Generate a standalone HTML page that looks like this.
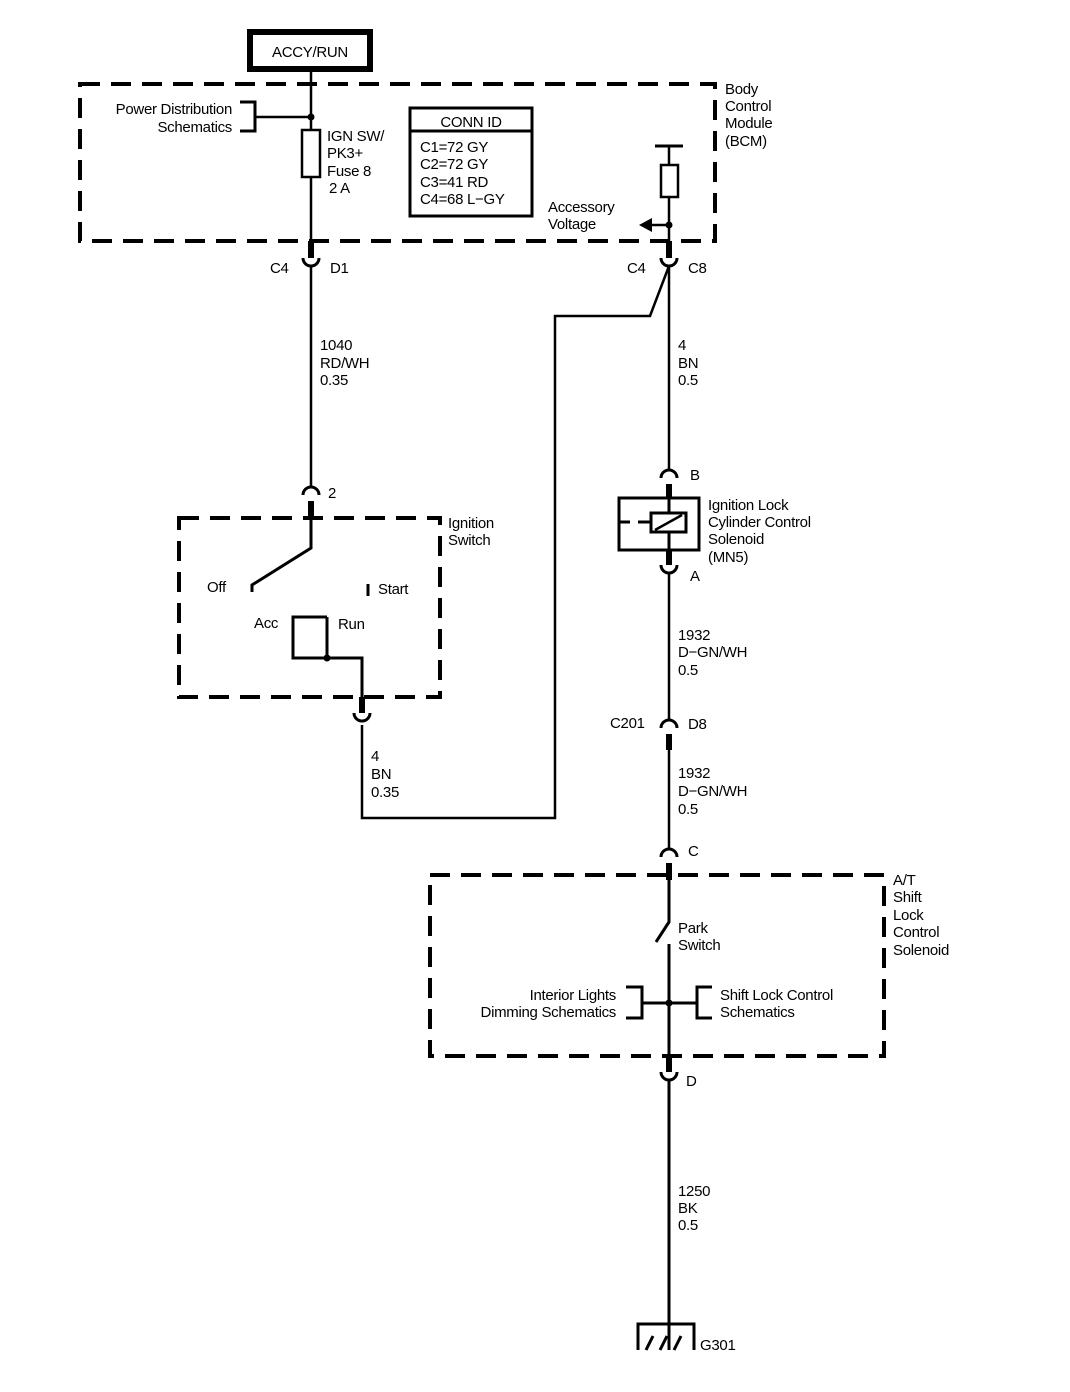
<!DOCTYPE html>
<html><head><style>
html,body{margin:0;padding:0;background:#fff}
svg{display:block}
text{font-family:"Liberation Sans",sans-serif;font-size:15px;fill:#000;letter-spacing:-0.3px}
</style></head><body>
<svg width="1070" height="1392" viewBox="0 0 1070 1392" xmlns="http://www.w3.org/2000/svg">
<g fill="none" stroke="#000">
<!-- ACCY/RUN -->
<rect x="250" y="32" width="120" height="37" stroke-width="6"/>
<!-- dashed boxes -->
<rect x="80" y="84" width="635" height="157" stroke-width="4" stroke-dasharray="20,11"/>
<rect x="179" y="518" width="261" height="179" stroke-width="4" stroke-dasharray="20,11"/>
<rect x="430" y="875" width="454" height="181" stroke-width="4" stroke-dasharray="20,11"/>
<!-- left wire -->
<line x1="311" y1="69" x2="311" y2="258" stroke-width="2.5"/>
<line x1="311" y1="241" x2="311" y2="258" stroke-width="6"/>
<path d="M303,258 A8,8 0 0 0 319,258" stroke-width="3"/>
<line x1="311" y1="266" x2="311" y2="487" stroke-width="2.5"/>
<path d="M303,495 A8,8 0 0 1 319,495" stroke-width="3"/>
<line x1="311" y1="501" x2="311" y2="520" stroke-width="6"/>
<!-- power distribution bracket -->
<line x1="255" y1="117" x2="311" y2="117" stroke-width="2.5"/>
<path d="M240,102 H255 V131 H240" stroke-width="3"/>
<circle cx="311" cy="117" r="3" fill="#000"/>
<!-- fuse -->
<rect x="302" y="130" width="18" height="47" fill="#fff" stroke-width="2.5"/>
<!-- conn id -->
<rect x="410" y="108" width="122" height="108" stroke-width="3"/>
<line x1="410" y1="131" x2="532" y2="131" stroke-width="3"/>
<!-- right BCM -->
<line x1="655" y1="146" x2="683" y2="146" stroke-width="3"/>
<line x1="669" y1="146" x2="669" y2="258" stroke-width="2.5"/>
<rect x="661" y="165" width="17" height="32" fill="#fff" stroke-width="2.5"/>
<line x1="650" y1="225" x2="669" y2="225" stroke-width="2.5"/>
<polygon points="639,225 652,218 652,232" fill="#000" stroke="none"/>
<circle cx="669" cy="225" r="3" fill="#000"/>
<line x1="669" y1="241" x2="669" y2="258" stroke-width="6"/>
<path d="M661,258 A8,8 0 0 0 677,258" stroke-width="3"/>
<!-- diagonal route -->
<polyline points="669,266 650,316 555,316 555,818 362,818 362,725" stroke-width="2.5"/>
<line x1="669" y1="266" x2="669" y2="470" stroke-width="2.5"/>
<!-- ignition switch internals -->
<polyline points="311,520 311,548 252,585 252,592" stroke-width="3"/>
<line x1="368" y1="584" x2="368" y2="596" stroke-width="3"/>
<path d="M327,617 H293 V658 H362 V697" stroke-width="3"/>
<line x1="327" y1="617" x2="327" y2="658" stroke-width="3"/>
<circle cx="327" cy="658" r="3" fill="#000"/>
<line x1="362" y1="697" x2="362" y2="713" stroke-width="6"/>
<path d="M354,713 A8,8 0 0 0 370,713" stroke-width="3"/>
<!-- solenoid MN5 -->
<path d="M661,478 A8,8 0 0 1 677,478" stroke-width="3"/>
<line x1="669" y1="484" x2="669" y2="565" stroke-width="6"/>
<rect x="619" y="498" width="80" height="52" fill="#fff" stroke-width="3"/>
<line x1="669" y1="498" x2="669" y2="550" stroke-width="3"/>
<line x1="619" y1="522" x2="630" y2="522" stroke-width="3"/>
<line x1="638" y1="522" x2="651" y2="522" stroke-width="3"/>
<rect x="651" y="513" width="35" height="19" fill="#fff" stroke-width="3"/>
<line x1="655" y1="530" x2="682" y2="515" stroke-width="2.5"/>
<path d="M661,565 A8,8 0 0 0 677,565" stroke-width="3"/>
<line x1="669" y1="573" x2="669" y2="720" stroke-width="2.5"/>
<path d="M661,728 A8,8 0 0 1 677,728" stroke-width="3"/>
<line x1="669" y1="734" x2="669" y2="750" stroke-width="6"/>
<line x1="669" y1="750" x2="669" y2="850" stroke-width="2.5"/>
<path d="M661,857 A8,8 0 0 1 677,857" stroke-width="3"/>
<line x1="669" y1="863" x2="669" y2="880" stroke-width="6"/>
<!-- A/T internals -->
<polyline points="669,880 669,922 656,942" stroke-width="3"/>
<line x1="669" y1="944" x2="669" y2="1072" stroke-width="3"/>
<line x1="642" y1="1003" x2="697" y2="1003" stroke-width="3"/>
<path d="M626,987 H642 V1018 H626" stroke-width="3"/>
<path d="M712,987 H697 V1018 H712" stroke-width="3"/>
<circle cx="669" cy="1003" r="3" fill="#000"/>
<line x1="669" y1="1056" x2="669" y2="1072" stroke-width="6"/>
<path d="M661,1072 A8,8 0 0 0 677,1072" stroke-width="3"/>
<line x1="669" y1="1080" x2="669" y2="1350" stroke-width="3"/>
<!-- ground -->
<path d="M638,1350 V1324 H694 V1350" stroke-width="3"/>
<line x1="646" y1="1350" x2="653" y2="1336" stroke-width="3"/>
<line x1="660" y1="1350" x2="667" y2="1336" stroke-width="3"/>
<line x1="674" y1="1350" x2="681" y2="1336" stroke-width="3"/>
</g>
<text x="310" y="57" text-anchor="middle">ACCY/RUN</text>
<text x="232" y="114" text-anchor="end">Power Distribution</text>
<text x="232" y="132" text-anchor="end">Schematics</text>
<text x="327" y="141">IGN SW/</text>
<text x="327" y="158">PK3+</text>
<text x="327" y="176">Fuse 8</text>
<text x="329" y="193">2 A</text>
<text x="471" y="127" text-anchor="middle">CONN ID</text>
<text x="420" y="152">C1=72 GY</text>
<text x="420" y="169">C2=72 GY</text>
<text x="420" y="187">C3=41 RD</text>
<text x="420" y="204">C4=68 L−GY</text>
<text x="548" y="212">Accessory</text>
<text x="548" y="229">Voltage</text>
<text x="725" y="94">Body</text>
<text x="725" y="111">Control</text>
<text x="725" y="128">Module</text>
<text x="725" y="146">(BCM)</text>
<text x="270" y="273">C4</text>
<text x="330" y="273">D1</text>
<text x="627" y="273">C4</text>
<text x="688" y="273">C8</text>
<text x="320" y="350">1040</text>
<text x="320" y="368">RD/WH</text>
<text x="320" y="385">0.35</text>
<text x="678" y="350">4</text>
<text x="678" y="368">BN</text>
<text x="678" y="385">0.5</text>
<text x="328" y="498">2</text>
<text x="448" y="528">Ignition</text>
<text x="448" y="545">Switch</text>
<text x="207" y="592">Off</text>
<text x="378" y="594">Start</text>
<text x="254" y="628">Acc</text>
<text x="338" y="629">Run</text>
<text x="371" y="761">4</text>
<text x="371" y="779">BN</text>
<text x="371" y="797">0.35</text>
<text x="690" y="480">B</text>
<text x="708" y="510">Ignition Lock</text>
<text x="708" y="527">Cylinder Control</text>
<text x="708" y="544">Solenoid</text>
<text x="708" y="562">(MN5)</text>
<text x="690" y="581">A</text>
<text x="678" y="640">1932</text>
<text x="678" y="657">D−GN/WH</text>
<text x="678" y="675">0.5</text>
<text x="610" y="728">C201</text>
<text x="688" y="729">D8</text>
<text x="678" y="778">1932</text>
<text x="678" y="796">D−GN/WH</text>
<text x="678" y="814">0.5</text>
<text x="688" y="856">C</text>
<text x="893" y="885">A/T</text>
<text x="893" y="902">Shift</text>
<text x="893" y="920">Lock</text>
<text x="893" y="937">Control</text>
<text x="893" y="955">Solenoid</text>
<text x="678" y="933">Park</text>
<text x="678" y="950">Switch</text>
<text x="616" y="1000" text-anchor="end">Interior Lights</text>
<text x="616" y="1017" text-anchor="end">Dimming Schematics</text>
<text x="720" y="1000">Shift Lock Control</text>
<text x="720" y="1017">Schematics</text>
<text x="686" y="1086">D</text>
<text x="678" y="1196">1250</text>
<text x="678" y="1213">BK</text>
<text x="678" y="1230">0.5</text>
<text x="700" y="1350">G301</text>
</svg>
</body></html>
